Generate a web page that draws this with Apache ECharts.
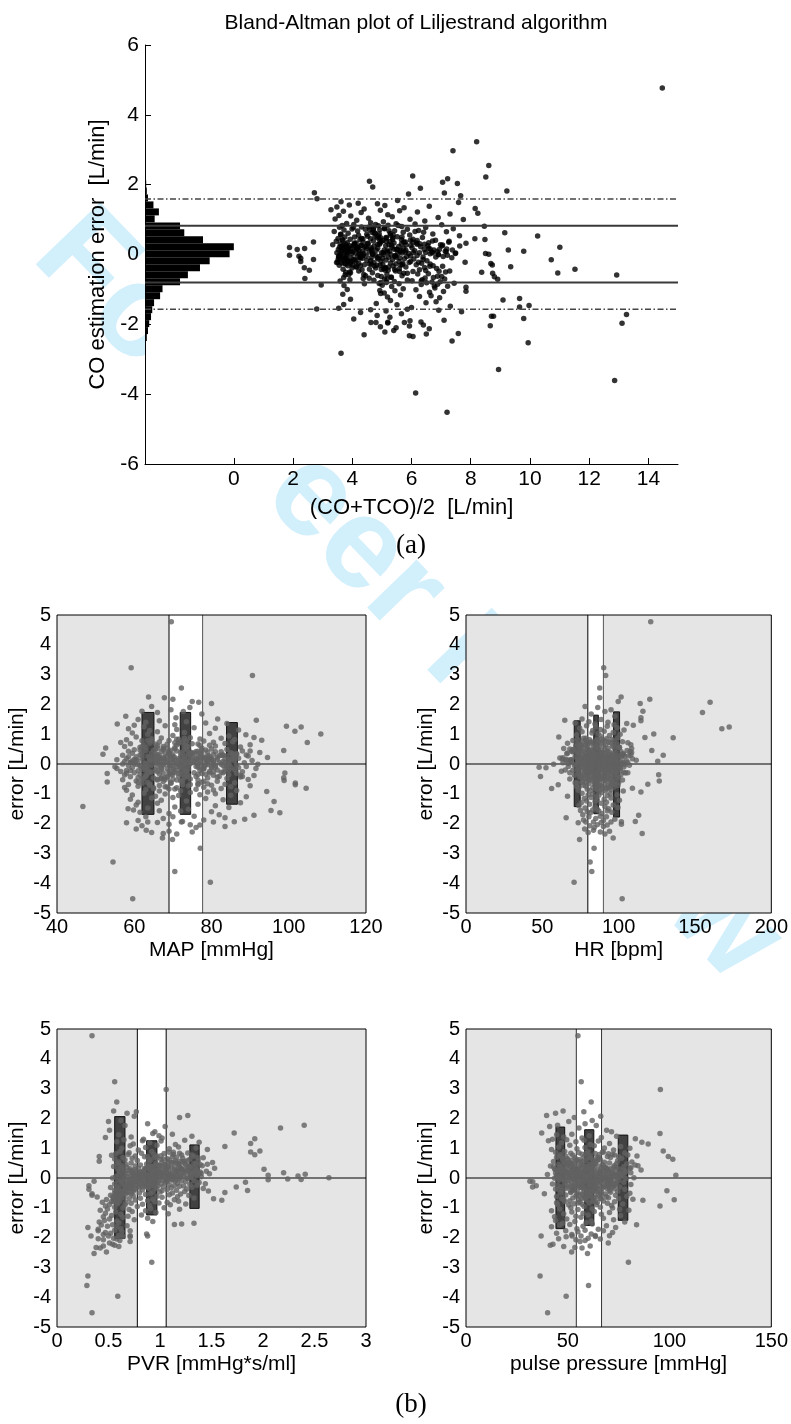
<!DOCTYPE html>
<html>
<head>
<meta charset="utf-8">
<script src="https://cdn.jsdelivr.net/npm/echarts@6/dist/echarts.min.js"></script>
<style>
  html, body { margin: 0; padding: 0; background: #fff; }
  #chart { width: 791px; height: 1424px; }
</style>
</head>
<body>
<div id="chart"></div>
<script>
// ---------------- data ----------------
// CO estimation error per sample [L/min]
const errL = [
  4.77, 3.23, 2.97, 2.55, 2.25, 2.22, 2.17, 2.10, 2.07, 2.03,
  1.93, 1.90, 1.82, 1.77, 1.76, 1.73, 1.68, 1.60, 1.55, 1.51,
  1.49, 1.47, 1.45, 1.42, 1.40, 1.38, 1.36, 1.34, 1.32, 1.30,
  1.28, 1.27, 1.25, 1.24, 1.22, 1.20, 1.18, 1.16, 1.14, 1.12,
  1.10, 1.08, 1.06, 1.04, 1.02, 1.01, 1.00, 0.98, 0.96, 0.94,
  0.91, 0.89, 0.88, 0.87, 0.86, 0.85, 0.84, 0.83, 0.82, 0.81,
  0.80, 0.79, 0.78, 0.77, 0.76, 0.75, 0.74, 0.73, 0.72, 0.72,
  0.71, 0.70, 0.69, 0.68, 0.67, 0.66, 0.65, 0.64, 0.63, 0.62,
  0.61, 0.60, 0.59, 0.58, 0.57, 0.56, 0.55, 0.54, 0.53, 0.52,
  0.51, 0.50, 0.50, 0.49, 0.48, 0.47, 0.46, 0.45, 0.45, 0.44,
  0.44, 0.43, 0.42, 0.42, 0.41, 0.40, 0.40, 0.39, 0.38, 0.38,
  0.37, 0.36, 0.36, 0.35, 0.34, 0.34, 0.33, 0.33, 0.32, 0.31,
  0.31, 0.30, 0.30, 0.29, 0.29, 0.28, 0.28, 0.27, 0.27, 0.26,
  0.26, 0.25, 0.25, 0.24, 0.24, 0.23, 0.23, 0.22, 0.22, 0.21,
  0.21, 0.20, 0.20, 0.19, 0.19, 0.18, 0.18, 0.17, 0.17, 0.16,
  0.16, 0.15, 0.15, 0.14, 0.14, 0.14, 0.13, 0.13, 0.12, 0.12,
  0.12, 0.11, 0.11, 0.10, 0.10, 0.09, 0.09, 0.08, 0.08, 0.07,
  0.07, 0.06, 0.06, 0.05, 0.05, 0.05, 0.04, 0.04, 0.03, 0.03,
  0.03, 0.02, 0.02, 0.02, 0.01, 0.01, 0.00, 0.00, -0.01, -0.01,
  -0.01, -0.02, -0.02, -0.03, -0.03, -0.04, -0.04, -0.05, -0.05, -0.06,
  -0.06, -0.06, -0.07, -0.07, -0.08, -0.08, -0.09, -0.09, -0.10, -0.10,
  -0.11, -0.11, -0.12, -0.12, -0.13, -0.13, -0.14, -0.14, -0.15, -0.15,
  -0.16, -0.17, -0.18, -0.18, -0.19, -0.20, -0.20, -0.21, -0.22, -0.22,
  -0.23, -0.23, -0.24, -0.24, -0.25, -0.25, -0.26, -0.26, -0.27, -0.27,
  -0.28, -0.28, -0.29, -0.29, -0.30, -0.30, -0.31, -0.31, -0.32, -0.32,
  -0.33, -0.34, -0.34, -0.35, -0.36, -0.36, -0.37, -0.38, -0.38, -0.39,
  -0.40, -0.41, -0.42, -0.42, -0.43, -0.44, -0.45, -0.45, -0.46, -0.47,
  -0.47, -0.48, -0.49, -0.50, -0.50, -0.51, -0.52, -0.53, -0.54, -0.54,
  -0.55, -0.56, -0.57, -0.58, -0.59, -0.60, -0.61, -0.62, -0.63, -0.64,
  -0.65, -0.66, -0.67, -0.68, -0.69, -0.70, -0.70, -0.71, -0.72, -0.73,
  -0.74, -0.75, -0.76, -0.77, -0.78, -0.79, -0.80, -0.81, -0.82, -0.83,
  -0.84, -0.85, -0.86, -0.87, -0.88, -0.89, -0.90, -0.91, -0.92, -0.94,
  -0.96, -0.98, -1.00, -1.01, -1.03, -1.04, -1.05, -1.06, -1.08, -1.10,
  -1.12, -1.14, -1.16, -1.18, -1.20, -1.22, -1.24, -1.26, -1.28, -1.30,
  -1.32, -1.35, -1.38, -1.40, -1.43, -1.44, -1.46, -1.48, -1.50, -1.52,
  -1.54, -1.56, -1.57, -1.58, -1.60, -1.62, -1.64, -1.66, -1.70, -1.72,
  -1.75, -1.77, -1.77, -1.80, -1.83, -1.85, -1.88, -1.90, -1.93, -1.94,
  -1.95, -1.95, -1.95, -1.96, -1.97, -2.02, -2.04, -2.05, -2.07, -2.10,
  -2.13, -2.18, -2.22, -2.26, -2.28, -2.30, -2.33, -2.35, -2.48, -2.53,
  -2.83, -3.29, -3.61, -3.97, -4.52,
  0.12, -0.35, 0.48, -0.07, 0.26, -0.61, 0.03, 0.37, -0.19, 0.71,
  -0.44, 0.18, 0.56, -0.12, 0.09, -0.28, 0.33, -0.72, 0.21, 0.05,
  0.64, -0.03, -0.51, 0.29, 0.14, -0.23, 0.42, -0.09, 0.77, -0.38,
  0.07, 0.31, -0.16, 0.52, -0.66, 0.24, -0.01, 0.11, -0.31, 0.45,
  -0.21, 0.83, 0.16, -0.47, 0.35, 0.02, -0.58, 0.27, -0.11, 0.61,
  0.19, -0.26, 0.39, -0.05, 0.68, -0.42, 0.13, -0.84, 0.23, 0.06,
  -0.14, 0.46, 0.01, -0.33, 0.28, 0.58, -0.08, 0.17, -0.54, 0.34,
  0.25, -0.69, 0.10, 0.41, -0.18, 0.74, -0.02, -0.39, 0.15, 0.53,
  -0.25, 0.08, 0.32, -0.49, 0.20, -0.10, 0.66, 0.04, -0.63, 0.38,
  0.13, -0.30, 0.50, -0.15, 0.22, 0.86, -0.45, 0.00, 0.30, -0.76,
  0.43, -0.06, 0.16, -0.36, 0.59, 0.09, -0.22, 0.27, -0.57, 0.11,
  -0.04, 0.36, -0.27, 0.21, 0.70, -0.13, 0.06, -0.41, 0.47, 0.18,
  0.29, -0.52, 0.03, 0.55, -0.17, 0.14, -0.80, 0.40, -0.09, 0.24,
  -0.32, 0.62, 0.08, -0.20, 0.33, -0.65, 0.12, 0.49, -0.02, 0.19,
  0.35, -0.11, 0.26, -0.43, 0.05, 0.79, -0.29, 0.15, -0.70, 0.44
];

// (CO+TCO)/2 per sample [L/min]
const coMean = [
  14.47, 8.20, 7.40, 8.61, 6.04, 8.51, 7.22, 4.58, 7.05, 7.55,
  4.69, 6.30, 9.22, 2.72, 7.11, 5.90, 7.66, 2.81, 5.53, 3.62,
  7.59, 4.20, 4.85, 3.90, 5.10, 6.60, 3.48, 5.75, 8.15, 4.40,
  3.28, 4.95, 5.60, 3.70, 6.20, 4.30, 8.24, 7.30, 5.20, 3.55,
  3.95, 5.35, 6.90, 4.55, 3.42, 5.95, 7.75, 4.15, 6.45, 5.05,
  4.62, 3.81, 5.48, 6.12, 4.05, 7.02, 5.21, 3.66, 4.88, 8.46,
  5.67, 4.31, 3.57, 6.48, 4.72, 5.09, 7.41, 3.99, 5.86, 4.44,
  4.93, 3.72, 6.24, 5.43, 4.18, 3.39, 7.18, 5.72, 4.67, 9.15,
  3.86, 5.28, 6.72, 4.49, 3.61, 5.94, 4.21, 7.62, 10.26, 4.77,
  5.52, 4.08, 3.75, 6.37, 4.84, 5.15, 3.52, 8.14, 4.62, 6.05,
  3.93, 8.48, 5.36, 4.26, 6.81, 3.68, 5.03, 4.71, 7.27, 3.46,
  4.98, 2.69, 5.79, 4.37, 3.83, 6.58, 5.41, 4.13, 7.84, 3.59,
  4.53, 5.66, 3.77, 6.19, 4.92, 3.34, 5.24, 7.05, 4.06, 5.98,
  4.29, 5.13, 3.91, 7.63, 4.74, 5.57, 3.63, 6.31, 4.42, 11.01,
  5.34, 4.17, 1.88, 6.02, 3.71, 4.86, 5.73, 2.39, 4.48, 7.19,
  3.96, 5.49, 4.64, 2.14, 6.43, 3.53, 5.08, 9.27, 4.23, 5.81,
  4.81, 3.87, 6.11, 5.26, 4.35, 9.79, 3.65, 5.62, 4.02, 6.69,
  4.57, 5.19, 3.79, 6.27, 4.99, 3.48, 5.69, 4.11, 8.50, 7.48,
  4.39, 5.53, 3.98, 6.63, 4.69, 8.61, 5.07, 3.58, 6.91, 4.26,
  5.31, 1.88, 4.78, 3.82, 6.19, 5.97, 4.47, 2.20, 5.44, 3.69,
  4.91, 5.84, 4.16, 6.39, 3.54, 5.22, 7.36, 4.64, 5.61, 3.97,
  4.34, 2.26, 5.76, 3.73, 4.87, 6.08, 2.69, 5.36, 4.03, 10.72,
  5.14, 4.49, 3.86, 6.52, 4.97, 2.26, 5.58, 4.12, 7.81, 3.51,
  4.73, 5.92, 3.64, 5.29, 4.22, 6.34, 3.93, 8.68, 5.47, 4.58,
  5.03, 3.78, 6.16, 4.41, 5.64, 8.73, 4.94, 3.56, 6.73, 4.27,
  5.38, 6.62, 7.05, 9.35, 5.81, 4.15, 6.44, 5.11, 2.38, 4.79,
  6.85, 5.59, 11.52, 3.69, 4.98, 6.27, 2.55, 5.21, 6.48, 7.29,
  5.46, 6.93, 6.05, 3.91, 7.15, 8.37, 4.68, 10.94, 5.74, 8.74,
  6.57, 6.21, 5.17, 3.76, 12.93, 4.86, 5.68, 6.88, 7.02, 8.80,
  5.31, 6.74, 6.46, 4.57, 2.40, 7.12, 5.09, 8.91, 6.36, 5.86,
  4.73, 6.02, 3.59, 5.42, 6.97, 6.69, 5.15, 6.51, 7.44, 4.91,
  5.58, 6.88, 6.33, 2.95, 5.01, 3.72, 6.77, 7.22, 5.33, 7.84,
  6.79, 5.72, 3.83, 6.15, 4.93, 5.44, 7.84, 7.08, 6.61, 5.08,
  4.96, 3.68, 5.63, 6.66, 6.27, 5.19, 6.95, 9.65, 3.94, 9.09,
  5.29, 6.83, 6.49, 4.81, 3.71, 5.51, 9.97, 7.31, 9.65, 6.00,
  3.54, 2.80, 5.86, 4.62, 6.92, 5.14, 7.69, 4.28, 5.66, 13.26,
  4.84, 8.77, 8.70, 5.27, 9.79, 4.05, 7.10, 5.95, 6.32, 5.20,
  4.63, 4.80, 5.76, 5.20, 13.11, 6.40, 8.66, 5.93, 4.95, 5.48,
  6.60, 5.40, 5.10, 7.58, 6.50, 4.40, 5.93, 6.05, 7.37, 9.94,
  3.62, 8.94, 12.86, 6.14, 7.20,
  5.63, 4.12, 4.96, 6.82, 3.69, 4.45, 5.91, 5.27, 3.84, 4.71,
  4.33, 6.58, 5.38, 3.58, 7.14, 4.64, 6.17, 3.92, 4.19, 5.04,
  6.41, 5.45, 3.78, 4.86, 6.94, 3.47, 5.66, 4.27, 4.04, 5.12,
  5.79, 6.28, 4.09, 4.52, 3.71, 7.03, 3.63, 5.18, 4.83, 4.36,
  3.96, 5.55, 6.63, 4.22, 7.26, 4.69, 3.88, 5.33, 5.02, 4.78,
  4.16, 5.71, 6.71, 3.54, 5.24, 4.58, 7.38, 4.41, 3.79, 6.06,
  6.39, 4.31, 3.82, 4.74, 6.98, 3.61, 5.48, 4.13, 5.86, 4.94,
  6.55, 4.37, 3.74, 5.96, 4.62, 5.09, 7.21, 3.99, 5.41, 4.88,
  3.73, 6.87, 4.53, 5.59, 3.86, 4.26, 6.12, 7.49, 4.98, 5.15,
  6.76, 4.01, 5.68, 3.52, 4.47, 4.79, 5.11, 6.91, 4.08, 6.33,
  3.66, 7.07, 4.14, 5.23, 4.91, 3.95, 6.24, 5.82, 4.39, 4.66,
  4.29, 5.74, 6.63, 3.57, 4.59, 3.81, 6.48, 5.06, 5.37, 4.18,
  6.44, 3.94, 4.23, 5.29, 3.68, 5.52, 4.96, 6.19, 4.84, 4.02,
  3.85, 4.74, 7.17, 5.97, 4.07, 5.32, 3.63, 5.14, 4.35, 4.63,
  6.05, 3.76, 4.31, 5.43, 6.71, 4.57, 5.69, 3.83, 5.17, 4.92
];

// mean arterial pressure per sample [mmHg]
const mapMmHg = [
  69.6, 59.2, 90.6, 72.2, 63.7, 67.8, 70.0, 75.0, 76.7, 80.0,
  64.5, 74.4, 69.5, 62.0, 72.7, 66.0, 77.5, 57.8, 70.8, 81.6,
  61.0, 91.6, 66.5, 73.5, 63.0, 78.5, 84.0, 55.6, 70.5, 60.0,
  68.0, 99.4, 62.5, 103.2, 75.5, 81.0, 58.5, 71.0, 87.0, 64.0,
  101.6, 66.0, 73.0, 59.5, 79.5, 108.3, 63.5, 88.9, 70.0, 84.5,
  60.5, 91.0, 74.5, 67.0, 82.5, 64.5, 77.0, 71.0, 86.0, 58.0,
  93.0, 69.0, 62.0, 78.0, 73.5, 85.5, 66.5, 80.5, 56.5, 104.8,
  71.5, 64.0, 83.5, 59.0, 76.5, 68.5, 90.0, 62.5, 79.5, 73.0,
  66.0, 81.0, 57.5, 74.0, 87.5, 61.5, 70.5, 52.6, 77.5, 67.5,
  73.5, 80.0, 65.5, 84.0, 60.0, 78.5, 69.5, 98.7, 63.0, 88.0,
  71.0, 58.5, 76.0, 67.0, 82.5, 74.5, 62.0, 92.5, 69.0, 85.0,
  64.5, 77.0, 59.5, 72.5, 86.5, 68.0, 51.9, 80.5, 66.0, 75.0,
  70.0, 61.5, 83.0, 74.0, 57.0, 79.0, 66.5, 89.5, 72.0, 63.5,
  76.5, 68.5, 85.5, 60.5, 73.0, 81.5, 64.0, 70.5, 94.5, 78.0,
  67.5, 79.5, 62.0, 74.5, 87.0, 58.0, 71.5, 83.5, 65.0, 76.0,
  73.0, 60.0, 80.0, 69.5, 55.5, 77.0, 84.5, 66.0, 71.5, 90.5,
  64.0, 75.5, 86.0, 61.0, 72.0, 79.0, 68.0, 83.0, 57.5, 70.0,
  67.0, 78.5, 101.6, 73.5, 59.0, 82.0, 65.5, 88.5, 70.5, 62.5,
  76.0, 69.0, 84.5, 63.0, 74.5, 80.5, 57.0, 71.0, 92.0, 66.5,
  73.0, 60.5, 79.0, 67.5, 86.5, 71.5, 64.5, 83.0, 58.5, 76.5,
  69.5, 81.0, 61.5, 74.0, 89.0, 66.0, 78.0, 55.0, 72.5, 84.0,
  76.5, 63.0, 70.0, 85.0, 59.5, 80.0, 67.0, 73.0, 91.5, 55.5,
  68.5, 78.0, 62.0, 74.0, 86.0, 65.5, 81.5, 71.0, 58.0, 77.0,
  73.5, 61.0, 83.5, 69.0, 56.5, 79.5, 66.0, 88.0, 72.0, 64.0,
  70.5, 82.5, 60.0, 75.5, 67.5, 99.0, 63.5, 86.5, 77.5, 53.0,
  66.5, 78.5, 72.5, 61.5, 84.5, 69.5, 57.5, 80.5, 74.0, 91.0,
  71.5, 63.0, 82.0, 76.0, 59.0, 87.5, 68.0, 73.0, 98.7, 65.0,
  79.0, 67.0, 84.0, 62.0, 74.5, 70.0, 89.5, 57.0, 76.5, 66.0,
  98.8, 72.0, 60.5, 81.5, 67.5, 53.0, 77.5, 63.5, 86.0, 101.7,
  69.5, 76.5, 64.0, 83.5, 58.5, 101.7, 72.5, 80.0, 66.5, 90.0,
  74.0, 61.0, 85.0, 68.5, 78.0, 57.5, 71.0, 104.5, 82.5, 65.0,
  69.0, 76.0, 63.0, 80.5, 58.0, 86.5, 72.0, 66.5, 94.3, 79.0,
  74.5, 62.5, 81.0, 68.0, 77.0, 59.5, 85.0, 71.5, 65.5, 89.0,
  70.0, 64.5, 78.5, 59.0, 83.0, 67.0, 73.5, 96.2, 61.0, 87.5,
  66.0, 76.5, 60.5, 81.0, 46.7, 70.5, 84.5, 63.5, 58.4, 74.0,
  59.8, 95.4, 66.5, 72.0, 80.0, 61.5, 97.7, 69.0, 82.0, 91.0,
  75.5, 63.0, 70.0, 83.5, 67.5, 88.6, 78.0, 61.0, 72.5, 85.9,
  72.2, 80.5, 63.5, 66.0, 58.0, 69.0, 74.5, 77.0, 62.0, 83.5,
  76.0, 60.5, 63.1, 69.0, 75.0, 64.5, 67.5, 71.0, 67.3, 69.9,
  77.1, 54.5, 70.5, 79.7, 59.6,
  79.5, 76.5, 67.5, 84.0, 65.0, 61.0, 72.0, 74.0, 63.5, 70.5,
  81.5, 68.0, 73.5, 62.5, 77.0, 70.0, 86.5, 64.0, 75.0, 59.0,
  71.0, 78.5, 66.0, 83.0, 60.5, 73.0, 69.0, 80.0, 64.5, 87.5,
  75.5, 62.0, 70.0, 68.5, 79.0, 65.5, 82.5, 72.5, 58.0, 77.5,
  63.0, 71.5, 85.0, 67.0, 74.5, 60.0, 78.0, 69.5, 81.0, 73.5,
  66.5, 80.5, 72.0, 61.5, 75.0, 88.0, 64.5, 70.5, 77.0, 83.5,
  78.0, 65.0, 73.0, 69.0, 82.0, 62.0, 76.0, 67.5, 71.0, 85.5,
  70.0, 74.5, 59.5, 81.0, 67.0, 72.5, 84.5, 63.0, 78.5, 66.0,
  73.5, 68.5, 77.5, 62.5, 86.0, 71.0, 65.5, 80.5, 69.5, 75.0,
  64.0, 79.5, 70.5, 83.5, 66.5, 73.0, 61.0, 77.0, 89.0, 68.0,
  76.5, 63.5, 81.5, 70.0, 67.5, 74.0, 59.0, 84.0, 72.5, 65.5,
  69.0, 75.5, 64.5, 78.5, 71.5, 87.0, 66.0, 73.5, 61.5, 80.0,
  82.5, 68.0, 74.5, 63.0, 77.5, 70.5, 65.0, 79.0, 72.0, 58.5,
  71.5, 77.0, 66.5, 84.5, 69.0, 62.0, 80.5, 73.0, 67.5, 76.0,
  65.5, 72.0, 79.5, 68.5, 74.0, 63.5, 83.0, 70.0, 76.5, 90.0
];

// heart rate per sample [bpm]
const hrBpm = [
  121.0, 90.2, 91.5, 87.6, 101.6, 87.6, 120.4, 99.7, 159.9, 114.1,
  78.0, 86.3, 95.0, 115.9, 91.0, 154.9, 82.0, 97.5, 114.6, 76.0,
  88.5, 64.7, 114.6, 80.5, 93.0, 71.5, 105.3, 84.5, 97.0, 109.6,
  79.0, 92.5, 85.0, 172.4, 99.0, 74.5, 167.6, 88.0, 103.5, 83.0,
  90.5, 76.0, 96.5, 82.5, 86.5, 123.0, 101.0, 72.5, 94.0, 88.0,
  60.8, 117.2, 135.7, 99.5, 78.5, 92.0, 88.5, 73.0, 95.5, 81.0,
  85.5, 70.0, 97.0, 89.5, 76.5, 102.5, 83.0, 93.5, 79.0, 87.0,
  94.5, 81.5, 88.0, 75.0, 99.0, 86.0, 108.0, 91.5, 78.0, 84.5,
  72.0, 90.0, 96.0, 83.5, 77.0, 100.5, 87.0, 80.0, 93.0, 108.5,
  86.5, 79.5, 97.5, 84.0, 74.0, 91.0, 82.0, 121.7, 88.5, 76.5,
  80.5, 92.5, 69.5, 101.5, 85.0, 77.5, 94.0, 89.0, 73.5, 98.0,
  90.5, 83.0, 78.5, 96.0, 66.0, 87.5, 93.5, 81.5, 103.0, 85.5,
  84.5, 97.0, 76.0, 89.0, 129.2, 80.0, 92.0, 86.0, 99.5, 74.5,
  91.5, 79.0, 95.5, 83.5, 71.5, 88.0, 102.0, 77.0, 86.5, 93.0,
  82.0, 94.0, 87.5, 75.5, 100.0, 84.0, 78.0, 90.5, 96.5, 80.5,
  88.0, 81.0, 97.5, 73.0, 91.0, 85.5, 79.5, 111.5, 89.5, 76.0,
  93.5, 77.5, 86.0, 99.0, 82.5, 125.6, 90.0, 74.0, 95.0, 84.0,
  86.0, 80.0, 92.0, 75.0, 97.0, 83.0, 88.5, 63.5, 101.0, 91.0,
  79.5, 94.5, 84.5, 77.0, 89.0, 98.0, 82.0, 93.0, 57.4, 87.0,
  91.5, 85.0, 76.5, 96.5, 81.5, 88.0, 107.0, 73.5, 90.0, 84.5,
  78.0, 93.0, 86.5, 99.5, 67.0, 89.5, 82.5, 95.5, 80.5, 87.5,
  85.0, 47.9, 92.5, 77.0, 52.4, 88.0, 81.0, 97.5, 74.0, 90.5,
  82.0, 96.0, 79.0, 89.0, 73.0, 94.0, 86.5, 101.0, 76.0, 91.0,
  87.0, 80.0, 93.5, 62.5, 98.5, 84.0, 91.0, 78.5, 96.5, 83.0,
  92.0, 85.5, 77.5, 106.0, 81.0, 88.5, 73.5, 94.5, 86.0, 79.5,
  84.0, 97.0, 79.0, 90.5, 74.5, 126.2, 88.0, 82.0, 95.0, 86.5,
  91.0, 77.0, 85.0, 48.8, 93.0, 81.0, 99.5, 87.0, 75.5, 89.5,
  83.5, 96.5, 78.0, 88.5, 68.0, 94.0, 85.5, 80.0, 102.5, 91.5,
  90.0, 82.5, 126.6, 76.5, 95.5, 86.0, 79.0, 100.0, 84.5, 73.0,
  87.5, 80.5, 96.0, 119.1, 84.0, 91.0, 60.4, 77.0, 99.5, 88.5,
  93.0, 78.5, 86.5, 97.0, 74.0, 89.5, 83.0, 109.0, 56.1, 92.0,
  85.0, 79.5, 95.0, 88.0, 73.5, 91.5, 81.5, 103.0, 87.0, 114.6,
  89.0, 76.0, 94.5, 83.0, 99.0, 80.0, 87.0, 92.5, 66.5, 85.5,
  82.0, 95.0, 77.5, 90.5, 86.0, 100.5, 79.0, 84.5, 92.0, 75.5,
  88.5, 81.0, 96.5, 74.0, 91.0, 84.5, 99.5, 78.0, 93.5, 86.0,
  83.0, 75.0, 92.5, 87.0, 79.5, 95.5, 81.5, 89.0, 76.5, 113.1,
  88.0, 80.5, 92.0, 65.6, 85.0, 97.5, 77.0, 90.0, 110.9, 101.8,
  83.5, 78.5, 95.0, 88.5, 73.5, 101.8, 86.0, 92.5, 81.0, 90.0,
  84.0, 77.7, 83.5, 94.0, 88.0, 80.0, 115.4, 91.0, 96.4, 74.4,
  83.9, 81.3, 82.4, 70.8, 102.3,
  84.0, 98.5, 70.5, 88.0, 104.0, 76.0, 93.5, 66.5, 86.5, 106.0,
  74.5, 89.5, 100.0, 80.5, 69.0, 103.5, 86.0, 95.0, 63.5, 83.5,
  96.5, 76.0, 87.0, 101.5, 68.5, 82.0, 107.5, 79.0, 91.0, 71.0,
  90.5, 102.5, 77.5, 64.0, 95.0, 84.5, 72.0, 98.0, 86.5, 105.5,
  70.0, 86.0, 97.0, 79.5, 103.0, 67.0, 92.5, 81.0, 100.5, 75.5,
  93.0, 80.0, 108.5, 87.5, 73.0, 99.0, 65.5, 85.5, 96.0, 78.0,
  101.0, 69.5, 82.5, 91.0, 106.5, 74.0, 95.5, 63.0, 85.0, 88.0,
  78.5, 97.5, 89.0, 70.0, 93.5, 81.5, 104.0, 75.5, 66.0, 86.0,
  99.0, 73.5, 84.5, 95.0, 61.5, 90.0, 79.5, 102.0, 71.5, 89.0,
  87.0, 104.5, 68.0, 82.5, 96.5, 77.0, 100.0, 86.5, 108.0, 72.5,
  80.5, 93.0, 74.0, 101.5, 85.0, 68.5, 91.5, 78.0, 97.5, 105.0,
  71.0, 88.5, 98.0, 80.0, 66.5, 93.5, 103.0, 84.5, 75.0, 109.0,
  95.5, 82.0, 76.5, 100.5, 88.0, 69.0, 94.0, 73.0, 103.5, 85.5,
  86.0, 75.0, 99.0, 65.0, 82.5, 96.5, 90.0, 70.5, 102.0, 79.0,
  74.0, 97.0, 83.0, 92.0, 106.0, 78.5, 68.0, 95.5, 87.0, 81.0
];

// peripheral vascular resistance per sample [mmHg*s/ml]
const pvrVal = [
  0.34, 0.56, 1.06, 0.58, 0.55, 0.77, 0.68, 1.27, 0.75, 1.19,
  0.62, 0.50, 0.88, 2.40, 0.66, 1.05, 2.17, 0.51, 0.95, 1.72,
  0.93, 1.12, 0.60, 0.99, 1.31, 0.72, 0.47, 1.02, 1.92, 0.84,
  0.65, 1.24, 0.83, 1.01, 0.58, 1.38, 0.90, 1.88, 0.74, 1.15,
  0.97, 0.71, 1.63, 1.18, 0.86, 1.35, 0.63, 1.09, 1.46, 0.79,
  1.97, 0.92, 0.61, 1.88, 1.13, 0.70, 1.27, 0.82, 1.04, 0.57,
  0.94, 0.69, 1.92, 1.21, 0.53, 1.01, 0.76, 1.33, 0.88, 0.41,
  0.85, 1.16, 0.64, 1.42, 0.97, 0.73, 1.07, 0.56, 1.29, 0.91,
  0.66, 1.09, 0.78, 1.37, 0.90, 0.41, 1.22, 0.60, 1.02, 1.51,
  1.11, 0.72, 0.96, 1.33, 0.58, 0.87, 1.46, 0.67, 1.04, 1.25,
  0.81, 1.19, 0.62, 0.99, 1.41, 0.76, 1.08, 0.55, 1.28, 0.93,
  1.14, 0.68, 0.89, 1.31, 0.63, 1.05, 0.79, 1.53, 0.94, 0.71,
  0.86, 1.21, 0.59, 1.02, 2.01, 0.75, 1.36, 0.97, 0.65, 1.17,
  0.92, 0.70, 1.26, 0.84, 1.08, 0.61, 1.45, 0.99, 0.77, 1.18,
  1.00, 0.81, 1.39, 0.66, 1.12, 2.20, 0.90, 1.24, 0.73, 1.06,
  0.83, 1.29, 0.69, 1.10, 0.95, 1.48, 0.74, 2.41, 1.03, 0.60,
  1.15, 0.78, 1.34, 0.91, 1.20, 2.05, 0.64, 1.07, 0.86, 2.34,
  0.98, 0.72, 1.23, 0.57, 1.09, 0.85, 1.40, 0.68, 1.01, 0.80,
  1.13, 0.93, 0.66, 1.30, 0.79, 2.64, 1.05, 0.54, 1.19, 0.88,
  0.96, 0.74, 1.27, 2.24, 0.62, 1.08, 0.84, 2.37, 1.16, 0.70,
  2.05, 0.89, 1.12, 0.67, 1.33, 0.82, 0.99, 0.59, 1.21, 0.76,
  1.06, 0.36, 0.77, 1.25, 0.63, 0.94, 1.83, 0.71, 1.38, 0.86,
  0.92, 0.69, 1.17, 0.81, 1.44, 0.56, 1.01, 0.73, 1.29, 0.88,
  1.09, 0.62, 0.84, 1.36, 0.74, 1.14, 0.31, 0.98, 0.66, 1.23,
  0.79, 1.19, 0.58, 1.03, 0.87, 1.74, 0.69, 1.31, 0.95, 0.52,
  1.11, 0.71, 0.89, 1.42, 0.60, 0.97, 1.26, 0.76, 0.31, 1.07,
  0.83, 1.16, 1.85, 0.64, 1.02, 1.47, 0.74, 1.24, 0.93, 0.57,
  1.00, 0.68, 1.63, 0.80, 1.12, 0.56, 0.91, 0.34, 1.20, 0.72,
  0.86, 1.09, 0.62, 0.34, 1.28, 0.74, 0.97, 0.58, 1.17, 0.39,
  1.02, 0.65, 1.33, 0.81, 0.55, 1.52, 0.70, 0.93, 0.48, 1.14,
  0.76, 1.60, 0.88, 0.61, 1.18, 0.53, 0.95, 0.44, 1.07, 0.67,
  0.99, 0.72, 0.59, 1.25, 0.83, 0.51, 1.10, 0.66, 0.90, 0.47,
  0.78, 0.56, 1.04, 0.64, 0.91, 0.49, 1.19, 0.70, 0.42, 0.86,
  0.73, 0.57, 0.96, 0.47, 1.08, 0.62, 0.82, 0.53, 0.69, 0.45,
  0.64, 0.88, 0.51, 0.75, 0.46, 0.58, 0.93, 0.41, 0.60, 1.33,
  1.21, 1.14, 0.54, 0.43, 0.68, 0.49, 0.58, 0.30, 0.62, 0.40,
  0.56, 0.71, 0.40, 0.63, 0.47, 0.52, 0.87, 0.45, 0.60, 0.71,
  0.88, 0.33, 0.50, 0.64, 0.71, 0.55, 0.40, 0.58, 0.45, 0.61,
  0.71, 0.51, 0.54, 0.56, 0.45, 0.60, 0.38, 0.42, 0.48, 0.36,
  0.92, 0.30, 0.29, 0.59, 0.34,
  0.97, 0.68, 1.18, 0.84, 1.06, 0.57, 0.91, 1.29, 0.74, 1.12,
  0.62, 1.02, 1.24, 0.79, 0.88, 0.71, 1.35, 0.55, 0.95, 1.09,
  1.03, 0.93, 0.59, 1.21, 0.82, 0.77, 0.99, 1.04, 1.31, 0.66,
  1.14, 0.87, 0.72, 1.08, 0.61, 1.27, 0.96, 0.81, 0.69, 1.39,
  0.85, 1.19, 1.01, 0.64, 1.11, 0.78, 0.52, 0.94, 1.07, 0.89,
  1.23, 0.66, 0.92, 1.00, 1.37, 0.73, 0.86, 0.58, 1.16, 0.75,
  0.63, 1.05, 1.26, 0.80, 0.98, 1.15, 0.90, 1.32, 0.67, 1.20,
  0.91, 0.60, 1.10, 1.28, 0.82, 0.97, 0.72, 0.58, 1.40, 1.13,
  0.94, 1.17, 0.85, 0.70, 1.04, 0.63, 1.22, 1.30, 0.54, 1.01,
  0.76, 0.88, 1.16, 1.05, 1.34, 1.09, 0.61, 0.92, 1.25, 0.57,
  0.99, 1.12, 0.83, 0.75, 1.27, 1.02, 0.68, 1.14, 0.62, 0.87,
  0.79, 1.08, 0.91, 1.31, 0.95, 0.70, 1.20, 0.56, 1.35, 0.98,
  1.06, 0.64, 0.84, 1.19, 0.97, 1.29, 0.55, 0.90, 1.15, 0.73,
  0.71, 1.01, 1.36, 0.89, 1.18, 0.60, 0.93, 1.24, 1.07, 0.81,
  0.88, 0.76, 1.21, 0.66, 1.00, 1.13, 0.83, 1.38, 0.59, 0.96
];

// pulse pressure per sample [mmHg]
const ppMmHg = [
  55.0, 56.6, 95.5, 61.5, 47.7, 57.9, 44.0, 39.6, 66.2, 53.2,
  62.0, 50.5, 58.5, 45.0, 64.0, 41.1, 55.5, 69.1, 71.5, 37.2,
  95.3, 52.0, 44.5, 60.5, 74.0, 48.0, 66.5, 57.0, 83.2, 42.5,
  49.5, 58.0, 40.5, 65.0, 54.0, 86.4, 47.0, 70.5, 89.5, 61.0,
  51.0, 63.0, 76.0, 45.5, 58.5, 68.0, 80.5, 54.5, 42.0, 72.5,
  96.9, 48.5, 60.0, 67.5, 44.0, 55.5, 78.0, 51.5, 63.5, 70.0,
  57.0, 65.5, 46.5, 73.0, 52.5, 61.0, 84.0, 49.0, 69.5, 99.4,
  58.0, 44.5, 71.0, 53.5, 64.5, 76.5, 50.0, 62.0, 101.6, 56.0,
  66.0, 47.5, 59.0, 74.5, 54.0, 62.5, 43.0, 81.5, 68.0, 51.0,
  55.5, 70.5, 48.0, 63.5, 79.0, 52.0, 60.5, 45.5, 67.0, 57.5,
  61.5, 49.5, 73.0, 56.5, 84.5, 41.5, 65.0, 53.0, 77.5, 59.5,
  68.5, 51.5, 62.0, 46.0, 74.0, 57.0, 66.5, 80.5, 54.5, 71.0,
  60.0, 43.5, 69.0, 55.0, 75.5, 50.5, 63.0, 86.0, 58.5, 47.0,
  64.5, 52.0, 70.0, 57.5, 45.0, 61.0, 78.5, 54.0, 67.5, 49.5,
  59.0, 72.0, 48.5, 65.5, 56.0, 81.0, 62.5, 44.0, 69.5, 53.5,
  66.0, 50.0, 75.0, 58.0, 46.5, 63.0, 55.0, 71.5, 40.0, 61.5,
  57.0, 68.0, 52.5, 77.0, 60.0, 103.1, 49.0, 64.0, 73.5, 55.5,
  62.0, 54.5, 70.5, 47.5, 65.0, 59.5, 76.0, 51.0, 68.0, 44.5,
  58.5, 71.5, 50.5, 64.0, 56.0, 82.5, 61.0, 46.0, 67.5, 74.5,
  63.5, 52.5, 78.5, 57.5, 69.0, 48.0, 60.0, 72.5, 55.0, 66.0,
  61.0, 70.0, 53.0, 66.5, 45.5, 75.0, 57.0, 63.5, 50.0, 68.5,
  59.0, 31.4, 71.0, 54.5, 32.8, 64.5, 48.5, 77.5, 61.0, 56.0,
  66.0, 52.0, 74.0, 58.0, 62.5, 42.5, 69.5, 55.5, 81.0, 49.0,
  57.0, 73.5, 51.5, 65.0, 45.0, 60.5, 34.5, 70.0, 54.0, 63.0,
  61.5, 68.0, 47.0, 56.5, 75.5, 32.7, 64.0, 52.0, 71.5, 58.5,
  55.5, 67.0, 49.5, 61.0, 73.0, 57.5, 44.0, 78.0, 63.5, 52.5,
  60.0, 53.0, 70.5, 47.5, 98.7, 64.5, 58.0, 74.5, 51.5, 66.5,
  62.0, 71.0, 55.0, 46.5, 66.0, 80.5, 59.5, 38.5, 68.5, 54.5,
  57.5, 65.0, 49.0, 73.5, 61.0, 54.0, 79.0, 44.5, 69.0, 58.0,
  63.0, 70.0, 52.5, 58.5, 75.0, 47.0, 66.5, 82.0, 55.5, 102.3,
  59.0, 86.9, 51.0, 67.5, 62.5, 48.5, 73.0, 56.0, 64.5, 44.5,
  60.5, 69.5, 53.0, 77.0, 57.0, 45.0, 64.0, 50.5, 71.5, 95.3,
  58.0, 66.0, 51.5, 72.0, 62.0, 46.0, 75.5, 55.0, 80.0, 42.0,
  63.0, 52.0, 70.5, 57.5, 48.0, 66.5, 60.0, 76.0, 54.0, 43.5,
  56.5, 67.5, 49.5, 72.5, 44.0, 61.5, 53.5, 78.0, 59.0, 47.5,
  62.0, 51.0, 83.8, 46.0, 69.0, 57.5, 42.0, 73.5, 54.5, 65.0,
  58.5, 49.0, 67.5, 55.0, 72.0, 44.5, 61.5, 52.0, 63.5, 70.5,
  36.9, 52.1, 56.5, 63.6, 49.2, 60.0, 45.5, 66.0, 54.0, 58.5,
  56.0, 69.9, 42.7, 41.4, 61.0, 48.0, 53.5, 57.0, 51.9, 59.7,
  79.8, 36.4, 60.2, 49.2, 40.1,
  58.0, 64.5, 49.5, 71.0, 55.0, 61.5, 46.0, 68.0, 53.5, 75.0,
  62.5, 51.0, 57.5, 66.0, 44.5, 72.5, 59.5, 48.0, 69.0, 55.5,
  65.0, 47.5, 60.0, 53.0, 74.0, 57.0, 50.5, 63.0, 79.5, 45.5,
  54.5, 69.5, 61.0, 48.5, 58.5, 66.5, 43.5, 73.0, 56.0, 62.0,
  71.5, 59.0, 52.5, 64.0, 47.0, 68.5, 55.5, 77.5, 61.5, 50.0,
  57.5, 63.5, 46.5, 70.0, 60.5, 52.0, 66.0, 55.0, 49.0, 74.5,
  61.0, 53.5, 67.5, 58.0, 44.0, 64.5, 50.5, 72.0, 57.0, 81.0,
  48.5, 66.0, 56.5, 62.5, 70.5, 46.0, 59.0, 53.0, 75.5, 63.5,
  68.0, 55.0, 61.5, 51.5, 65.5, 58.5, 47.5, 71.0, 60.0, 43.0,
  56.0, 70.0, 49.0, 64.0, 53.5, 67.0, 59.5, 45.5, 73.5, 62.0,
  63.0, 48.0, 57.0, 69.5, 52.0, 76.5, 60.5, 54.5, 66.5, 50.5,
  59.5, 72.5, 54.0, 47.0, 65.0, 57.5, 69.0, 62.0, 51.5, 78.0,
  52.5, 61.0, 67.0, 56.5, 73.5, 49.5, 63.5, 58.0, 70.0, 46.5,
  66.5, 54.5, 60.0, 71.5, 48.5, 64.0, 57.0, 74.0, 52.5, 61.5,
  55.5, 68.5, 45.0, 62.5, 59.0, 72.0, 50.0, 65.5, 56.5, 83.0
];

// error histogram: bin centres [L/min] and counts (bin width 0.2)
const histBin = 0.2;
const histCenters = [2.22, 2.02, 1.82, 1.62, 1.42, 1.22, 1.02, 0.82, 0.62, 0.42, 0.22, 0.02,
  -0.18, -0.38, -0.58, -0.78, -0.98, -1.18, -1.38, -1.58, -1.78, -1.98, -2.18, -2.38, -2.58];
const histCounts = [1, 2, 3, 5, 14, 23, 16, 58, 65, 96, 147, 140,
  107, 91, 71, 58, 29, 25, 15, 12, 10, 7, 5, 3, 1];

// reference lines of the Bland-Altman plot
const sdLines = [0.82, -0.80];     // solid
const loaLines = [1.59, -1.57];    // dash-dot

// tick values of the mean-CO axis
const coTicks = [0, 2, 4, 6, 8, 10, 12, 14];

// white bands (x range) and dark boxes [xLow, xHigh, errLow, errHigh] per panel
const mapBand = [69.0, 77.7];
const hrBand = [79.8, 90.0];
const pvrBand = [0.78, 1.06];
const ppBand = [54.2, 66.6];
const mapBoxes = [[62.0, 65.1, -1.69, 1.73], [71.9, 74.6, -1.69, 1.73], [83.9, 86.7, -1.35, 1.39]];
const hrBoxes = [[70.9, 74.8, -1.43, 1.45], [83.7, 86.7, -1.67, 1.64], [96.7, 100.6, -1.78, 1.75]];
const pvrBoxes = [[0.56, 0.66, -2.03, 2.06], [0.87, 0.97, -1.24, 1.25], [1.29, 1.38, -1.02, 1.11]];
const ppBoxes = [[44.2, 48.5, -1.70, 1.71], [58.3, 62.8, -1.59, 1.62], [74.8, 79.5, -1.42, 1.44]];

// ---------------- drawing ----------------
const FONT = 'Liberation Sans, Arial, Helvetica, sans-serif';
const SERIF = 'Liberation Serif, Times New Roman, serif';
const coMin = -3, coMax = 15;

const chart = echarts.init(document.getElementById('chart'), null, { renderer: 'canvas' });

const panels = [
  { name: 'MAP [mmHg]', xs: mapMmHg, min: 40, max: 120, interval: 20, band: mapBand, boxes: mapBoxes,
    grid: { left: 57, top: 615 }, edge: ['#000', '#555'] },
  { name: 'HR [bpm]', xs: hrBpm, min: 0, max: 200, interval: 50, band: hrBand, boxes: hrBoxes,
    grid: { left: 466, top: 615 }, edge: ['#000', '#555'] },
  { name: 'PVR [mmHg*s/ml]', xs: pvrVal, min: 0, max: 3, interval: 0.5, band: pvrBand, boxes: pvrBoxes,
    grid: { left: 57, top: 1029 }, edge: ['#000', '#000'] },
  { name: 'pulse pressure [mmHg]', xs: ppMmHg, min: 0, max: 150, interval: 50, band: ppBand, boxes: ppBoxes,
    grid: { left: 466, top: 1029 }, edge: ['#333', '#333'] }
];

const grids = [{ left: 145, top: 45, width: 533, height: 419, show: true, backgroundColor: '#fff', borderWidth: 0 }];
const xAxes = [{
  gridIndex: 0, type: 'value', min: coMin, max: coMax,
  axisLine: { show: true, onZero: false, lineStyle: { color: '#000', width: 1 } },
  axisTick: { show: true, inside: true, length: 6, customValues: coTicks, lineStyle: { color: '#000' } },
  axisLabel: { customValues: coTicks, color: '#000', fontSize: 21, fontFamily: FONT, margin: 5 },
  splitLine: { show: false },
  name: '(CO+TCO)/2  [L/min]', nameLocation: 'middle', nameGap: 33,
  nameTextStyle: { color: '#000', fontSize: 22, fontFamily: FONT }
}];
const yAxes = [{
  gridIndex: 0, type: 'value', min: -6, max: 6, interval: 2,
  axisLine: { show: true, onZero: false, lineStyle: { color: '#000', width: 1 } },
  axisTick: { show: true, inside: true, length: 6, lineStyle: { color: '#000' } },
  axisLabel: { color: '#000', fontSize: 21, fontFamily: FONT, margin: 6 },
  splitLine: { show: false },
  name: 'CO estimation error  [L/min]', nameLocation: 'middle', nameGap: 34, nameRotate: 90,
  nameTextStyle: { color: '#000', fontSize: 22, fontFamily: FONT }
}];

const series = [];

// histogram of the errors, drawn horizontally from the left edge, longest bar reaching x = 0
const maxCount = Math.max(...histCounts);
series.push({
  type: 'custom', xAxisIndex: 0, yAxisIndex: 0, silent: true,
  data: histCenters.map((c, i) => [c, histCounts[i]]),
  renderItem(params, api) {
    const c = api.value(0), n = api.value(1);
    const xEnd = coMin + (n / maxCount) * (0 - coMin);
    const p0 = api.coord([coMin, c + histBin / 2]);
    const p1 = api.coord([xEnd, c - histBin / 2]);
    return { type: 'rect', shape: { x: p0[0], y: p0[1], width: p1[0] - p0[0], height: p1[1] - p0[1] },
      style: { fill: '#000' } };
  }
});

// reference lines
sdLines.forEach(v => series.push({
  type: 'line', xAxisIndex: 0, yAxisIndex: 0, silent: true, symbol: 'none',
  data: [[coMin, v], [coMax, v]], lineStyle: { color: '#3a3a3a', width: 2 }
}));
loaLines.forEach(v => series.push({
  type: 'line', xAxisIndex: 0, yAxisIndex: 0, silent: true, symbol: 'none',
  data: [[coMin, v], [coMax, v]], lineStyle: { color: '#444', width: 1.5, type: [6, 2.5, 1.5, 2.5] }
}));

// Bland-Altman scatter
series.push({
  type: 'scatter', xAxisIndex: 0, yAxisIndex: 0, silent: true,
  data: errL.map((e, i) => [coMean[i], e]),
  symbolSize: 5.5, itemStyle: { color: '#000' }
});

panels.forEach((p, k) => {
  const gi = k + 1;
  grids.push({ left: p.grid.left, top: p.grid.top, width: 309, height: 298, show: true,
    backgroundColor: '#e5e5e5', borderWidth: 0 });
  xAxes.push({
    gridIndex: gi, type: 'value', min: p.min, max: p.max, interval: p.interval,
    axisLine: { show: false }, axisTick: { show: false }, splitLine: { show: false },
    axisLabel: { color: '#000', fontSize: 20, fontFamily: FONT, margin: 4 },
    name: p.name, nameLocation: 'middle', nameGap: 27,
    nameTextStyle: { color: '#000', fontSize: 21, fontFamily: FONT }
  });
  yAxes.push({
    gridIndex: gi, type: 'value', min: -5, max: 5, interval: 1,
    axisLine: { show: false }, axisTick: { show: false }, splitLine: { show: false },
    axisLabel: { color: '#000', fontSize: 20, fontFamily: FONT, margin: 6 },
    name: 'error [L/min]', nameLocation: 'middle', nameGap: 29, nameRotate: 90,
    nameTextStyle: { color: '#000', fontSize: 21, fontFamily: FONT }
  });

  // white band, its edge lines, the zero line and the frame
  series.push({
    type: 'custom', xAxisIndex: gi, yAxisIndex: gi, silent: true,
    data: [p.band],
    renderItem(params, api) {
      const cs = params.coordSys;
      const a = api.coord([api.value(0), 0]);
      const b = api.coord([api.value(1), 0]);
      const top = cs.y, bot = cs.y + cs.height;
      return { type: 'group', children: [
        { type: 'rect', shape: { x: a[0], y: top, width: b[0] - a[0], height: cs.height }, style: { fill: '#fff' } },
        { type: 'line', shape: { x1: cs.x, y1: a[1], x2: cs.x + cs.width, y2: a[1] }, style: { stroke: '#000', lineWidth: 1 } },
        { type: 'line', shape: { x1: a[0], y1: top, x2: a[0], y2: bot }, style: { stroke: p.edge[0], lineWidth: 1 } },
        { type: 'line', shape: { x1: b[0], y1: top, x2: b[0], y2: bot }, style: { stroke: p.edge[1], lineWidth: 1 } },
        { type: 'rect', shape: { x: cs.x, y: cs.y, width: cs.width, height: cs.height },
          style: { fill: 'none', stroke: '#000', lineWidth: 1 } }
      ] };
    }
  });

  // dark boxes
  series.push({
    type: 'custom', xAxisIndex: gi, yAxisIndex: gi, silent: true,
    data: p.boxes,
    renderItem(params, api) {
      const p0 = api.coord([api.value(0), api.value(3)]);
      const p1 = api.coord([api.value(1), api.value(2)]);
      return { type: 'rect', shape: { x: p0[0], y: p0[1], width: p1[0] - p0[0], height: p1[1] - p0[1] },
        style: { fill: '#424242', stroke: '#111', lineWidth: 1 } };
    }
  });

  // samples
  series.push({
    type: 'scatter', xAxisIndex: gi, yAxisIndex: gi, silent: true,
    data: errL.map((e, i) => [p.xs[i], e]),
    symbolSize: 5.5, itemStyle: { color: '#626262' }
  });
});

chart.setOption({
  animation: false,
  grid: grids,
  xAxis: xAxes,
  yAxis: yAxes,
  title: [
    { text: 'Bland-Altman plot of Liljestrand algorithm', left: 411, top: 8, textAlign: 'center',
      textStyle: { color: '#000', fontSize: 21, fontWeight: 'normal', fontFamily: FONT } },
    { text: '(a)', left: 406, top: 527, textAlign: 'center',
      textStyle: { color: '#000', fontSize: 27, fontWeight: 'normal', fontFamily: SERIF } },
    { text: '(b)', left: 406, top: 1386, textAlign: 'center',
      textStyle: { color: '#000', fontSize: 27, fontWeight: 'normal', fontFamily: SERIF } }
  ],
  graphic: [{
    type: 'text', x: 407, y: 597, rotation: -46 * Math.PI / 180, z: -10, silent: true,
    style: { text: 'For Peer Review', fill: '#d2effc', font: 'bold 130px ' + FONT,
      align: 'center', verticalAlign: 'middle', textAlign: 'center', textVerticalAlign: 'middle' }
  }],
  series: series
});
</script>
</body>
</html>
